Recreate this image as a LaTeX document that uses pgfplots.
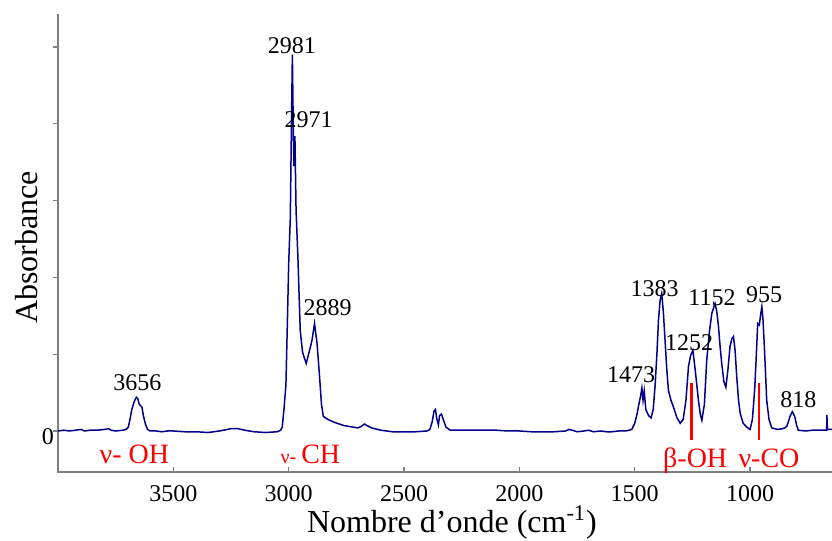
\documentclass[border=0pt]{standalone}
\usepackage{pgfplots}
\pgfplotsset{compat=1.18}
\usepackage{fontspec}
\setmainfont{Liberation Serif}
\definecolor{spec}{RGB}{0,0,139}
\definecolor{axgray}{RGB}{128,128,128}
\begin{document}
\begin{tikzpicture}
\begin{axis}[
  name=ax, scale only axis, width=387pt, height=229pt,
  x dir=reverse, xmin=645, xmax=4000, ymin=-0.534, ymax=5.43,
  axis line style={draw=none},
  xtick={1000,1500,...,3500}, ytick={0,...,5},
  yticklabels={0,{},{},{},{},{}},
  xtick pos=bottom, ytick pos=left,
  xtick align=inside, ytick align=outside,
  major tick length=2.5pt,
  tick style={axgray, line width=0.6pt},
  ticklabel style={font=\fontsize{12}{14}\selectfont},
  xticklabel style={yshift=-3pt},
  yticklabel style={yshift=-3pt, xshift=4pt},
  /pgf/number format/assume math mode=true,
  /pgf/number format/1000 sep={},
  xlabel={Nombre d’onde (cm\textsuperscript{-1})},
  ylabel={Absorbance},
  label style={font=\fontsize{16}{19}\selectfont},
  xlabel style={at={(axis description cs:0.509,-0.133)}, anchor=base},
  ylabel style={at={(axis description cs:-0.04,0.49)}, anchor=center},
  clip=false,
]
\draw[axgray, line width=0.8pt] (axis description cs:0,1) -- (axis description cs:0,0) -- (axis description cs:1,0);

\addplot[spec, line width=0.75pt] table {
x y
4000 0.00
3975 0.01
3950 0.00
3925 0.01
3900 0.02
3885 0.00
3860 0.01
3830 0.01
3800 0.02
3780 0.03
3770 0.01
3750 0.00
3720 0.01
3705 0.02
3695 0.05
3688 0.15
3680 0.28
3670 0.38
3660 0.44
3654 0.42
3648 0.35
3642 0.33
3636 0.31
3630 0.20
3620 0.08
3612 0.02
3600 0.00
3575 0.00
3550 -0.01
3525 0.00
3500 0.00
3450 -0.01
3400 -0.01
3350 -0.02
3300 0.00
3250 0.03
3220 0.03
3190 0.01
3150 -0.01
3100 -0.02
3050 -0.01
3035 0.01
3028 0.05
3020 0.30
3012 0.60
3005 1.50
3000 2.18
2993 2.77
2988 4.00
2984 4.90
2980 3.90
2977 3.45
2973 3.84
2968 2.87
2960 2.26
2950 1.31
2940 1.03
2932 0.95
2924 0.88
2912 1.02
2899 1.18
2888 1.40
2877 1.14
2866 0.70
2858 0.35
2850 0.19
2830 0.15
2800 0.11
2760 0.07
2720 0.05
2700 0.04
2685 0.06
2672 0.09
2660 0.07
2640 0.04
2600 0.01
2550 -0.01
2500 -0.01
2450 -0.01
2400 0.00
2388 0.02
2378 0.12
2370 0.26
2364 0.28
2358 0.16
2351 0.08
2346 0.20
2338 0.22
2330 0.15
2318 0.05
2300 0.01
2250 0.01
2200 0.01
2150 0.01
2100 0.01
2050 0.00
2000 0.00
1950 -0.01
1900 -0.01
1850 -0.01
1800 0.00
1785 0.02
1770 0.01
1750 -0.01
1720 0.00
1700 0.01
1680 -0.01
1650 0.00
1620 -0.01
1600 -0.01
1570 0.00
1540 0.00
1525 0.01
1513 0.02
1500 0.10
1490 0.22
1484 0.32
1475 0.45
1469 0.56
1464 0.40
1459 0.52
1452 0.28
1440 0.20
1429 0.17
1420 0.28
1412 0.58
1404 1.00
1397 1.45
1390 1.70
1383 1.79
1376 1.55
1368 1.15
1361 0.80
1354 0.53
1343 0.40
1333 0.32
1318 0.18
1303 0.10
1290 0.15
1278 0.40
1267 0.84
1258 0.98
1248 1.05
1238 0.80
1231 0.60
1224 0.40
1216 0.22
1209 0.14
1198 0.35
1188 0.92
1176 1.30
1166 1.53
1152 1.66
1144 1.55
1137 1.36
1130 1.10
1123 0.88
1114 0.65
1105 0.57
1096 0.80
1087 1.10
1079 1.20
1072 1.23
1065 1.05
1058 0.71
1050 0.40
1043 0.23
1030 0.10
1014 0.05
1000 0.02
990 0.15
980 0.55
974 0.92
967 1.40
960 1.38
955 1.50
949 1.62
944 1.45
939 1.15
933 0.75
928 0.40
918 0.15
906 0.04
880 0.02
860 0.03
850 0.04
841 0.06
834 0.12
827 0.19
817 0.25
811 0.22
805 0.17
798 0.07
791 0.01
760 0.00
730 0.01
700 0.01
675 0.01
668 0.01
667 0.21
665 0.02
645 0.02
};

\addplot[red, line width=1.3pt] coordinates {(1253,0.625) (1253,-0.117)};
\addplot[red, line width=1.3pt] coordinates {(961,0.625) (961,-0.117)};

\begin{scope}[every node/.style={font=\fontsize{12}{14}\selectfont, anchor=base, inner sep=0pt}]
\node at (axis cs:3656,0.53) {3656};
\node at (axis cs:2986,4.92) {2981};
\node at (axis cs:2914,3.95) {2971};
\node at (axis cs:2831,1.51) {2889};
\node at (axis cs:1516,0.625) {1473};
\node at (axis cs:1414,1.75) {1383};
\node at (axis cs:1264,1.046) {1252};
\node at (axis cs:1165,1.64) {1152};
\node at (axis cs:939,1.67) {955};
\node at (axis cs:791,0.30) {818};
\end{scope}

\begin{scope}[every node/.style={font=\fontsize{14}{17}\selectfont, text=red, anchor=base, inner sep=0pt}]
\node at (axis cs:3669,-0.417) {ν- OH};
\node at (axis cs:2906,-0.417) {{\fontsize{10}{12}\selectfont ν- }CH};
\node at (axis cs:1238,-0.469) {β-OH};
\node at (axis cs:918,-0.469) {ν-CO};
\end{scope}
\end{axis}
\pgfresetboundingbox
\path[use as bounding box] ([xshift=-29pt,yshift=-34.5pt]ax.south west) rectangle ([yshift=7pt]ax.north east);
\end{tikzpicture}
\end{document}
